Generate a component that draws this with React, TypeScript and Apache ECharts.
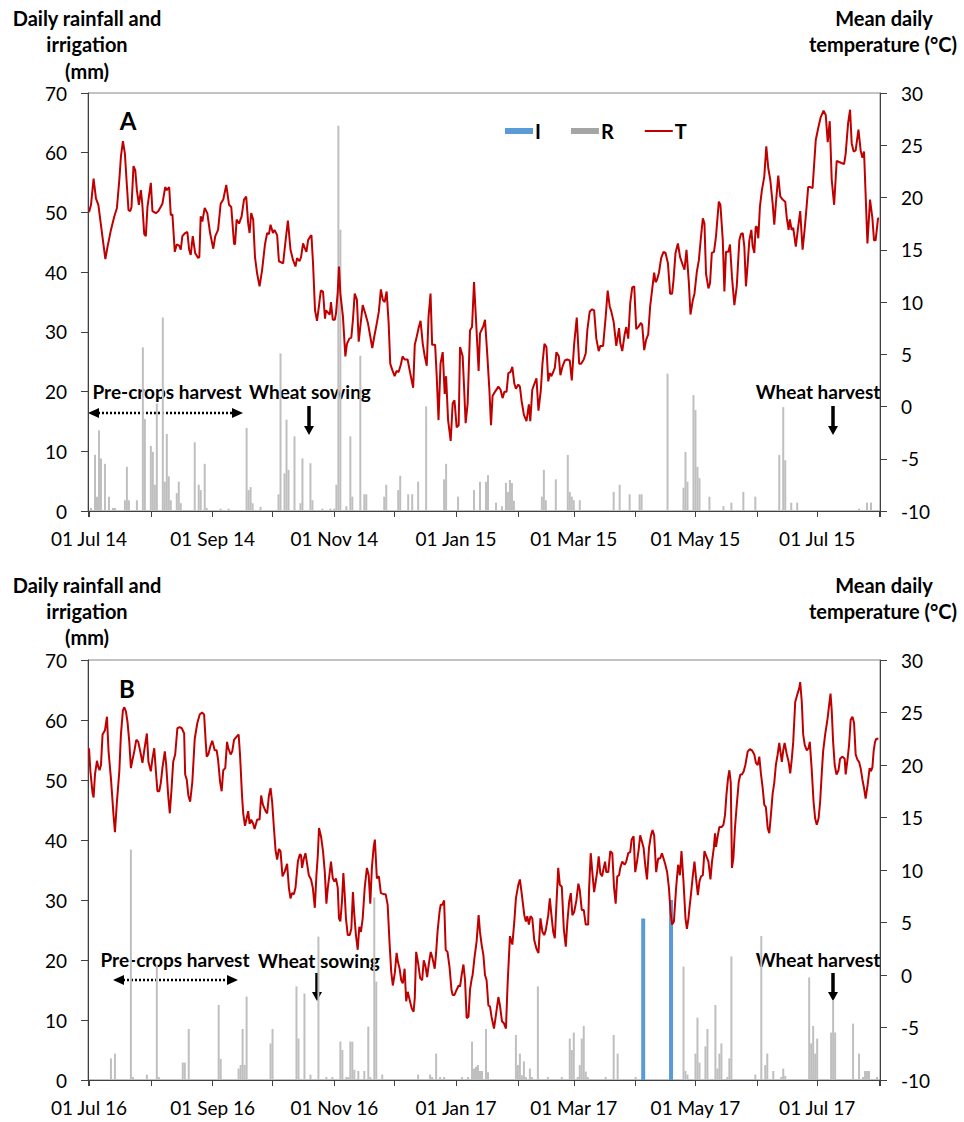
import React, { useEffect, useRef } from "react";
import * as echarts from "echarts";

// ---------- Data (day offset from 1 July of start year, value) ----------
const startA = [2014, 6, 1];
const endA = [2015, 7, 1];
const startB = [2016, 6, 1];
const endB = [2017, 7, 1];

const monthNames = ["Jan", "Feb", "Mar", "Apr", "May", "Jun", "Jul", "Aug", "Sep", "Oct", "Nov", "Dec"];

// Panel A: mean daily temperature (°C)
const tempA: number[][] = [
  [0,18.6],[1,19.3],[2.3,21.8],[3.5,19.9],[4.7,19.3],[6.3,16.9],[8.2,14.1],[9.3,15.3],[11,16.9],[12.7,18.2],[14,19.0],[15.2,21.7],[16,23.9],[17,25.4],[18,24.2],[18.8,21.7],[19.8,18.8],[20.7,18.7],[21.3,19.1],[22.3,23.0],[23.2,22.6],[24,20.7],[25,19.3],[26,20.7],[26.7,19.4],[27.7,16.5],[28.5,16.3],[29.3,19.1],[31,21.4],[31.8,18.7],[33.5,18.5],[34.8,18.7],[36.8,19.4],[38.2,21.0],[39,20.7],[40.2,21.0],[41,18.3],[41.8,18.4],[43,14.8],[44,15.5],[45.2,15.4],[46,15.0],[46.8,16.3],[48.2,16.6],[49.3,16.7],[50.2,15.0],[51,14.5],[52,16.3],[53.2,14.7],[54.7,14.2],[55.3,14.3],[56,18.2],[56.8,17.7],[58,19.0],[59.3,18.5],[60.7,16.6],[62.3,15.1],[63.3,16.3],[64.7,16.9],[66,19.4],[67.3,19.8],[68.8,21.2],[70.2,19.3],[71.3,19.1],[72.7,15.6],[73.2,15.5],[74,17.9],[75.2,17.5],[76.5,18.2],[77.7,19.8],[78.8,20.1],[79.8,17.5],[80.5,16.6],[81.3,18.5],[82.3,17.9],[83.2,14.3],[84.3,12.7],[85.5,11.5],[86.8,13.1],[88.2,15.5],[89.3,16.6],[90.2,16.5],[91,17.4],[92.2,16.6],[93,16.9],[94.3,16.4],[95.2,13.9],[97.3,13.7],[98.5,15.8],[99.7,17.8],[101,15.0],[102.3,14.0],[103.5,13.4],[104.3,14.2],[105.5,13.9],[106.3,14.3],[107.3,15.6],[108.5,15.0],[109,14.8],[109.8,15.9],[111,16.3],[111.5,16.4],[112.3,13.7],[113.3,9.2],[114.3,8.2],[115.2,9.5],[116.2,11.1],[117.3,11.0],[118.3,8.4],[118.8,9.2],[120.2,8.9],[120.7,8.8],[121.3,10.0],[122.2,8.3],[123.2,8.3],[123.8,8.9],[124.7,11.0],[125.3,13.4],[126,10.8],[127.3,8.6],[128.5,4.8],[129.3,6.0],[130.5,6.5],[131.5,6.6],[132.3,8.3],[133.2,10.8],[134.3,10.2],[135.2,6.2],[136.2,8.0],[137.2,9.7],[138.5,8.9],[139.8,8.0],[141,6.7],[142,5.6],[143,6.7],[144.3,8.0],[145.3,9.1],[146.3,11.2],[147.3,10.2],[148.2,10.0],[149.2,11.0],[150.2,8.0],[151,4.1],[152,3.5],[153.2,2.9],[154.2,3.4],[155.2,3.3],[156.3,4.0],[157.2,4.8],[158.2,4.5],[159.7,4.5],[161,3.2],[162.5,1.8],[163.3,5.9],[164.3,6.7],[165.2,7.5],[166.2,8.2],[167.3,6.0],[168.3,4.8],[169.3,3.9],[170.2,8.6],[171.2,10.8],[172,5.9],[173.5,5.9],[174.3,2.9],[175.2,-1.3],[176.2,4.1],[177.3,5.2],[178.3,1.2],[179,2.9],[180,-1.3],[181.3,-3.3],[182.3,0.3],[183.2,0.6],[184.3,-2.0],[185.3,-1.8],[186,5.7],[187.3,4.8],[188,1.9],[188.8,-1.6],[189.8,0.3],[191,7.3],[192,7.6],[193,11.9],[194,8.3],[195.3,3.4],[196,7.0],[197.7,7.7],[198.5,8.3],[199.7,4.8],[200.7,1.6],[201.5,-1.8],[202.3,1.0],[203.5,1.4],[205.2,1.9],[206.3,1.6],[207.3,0.8],[208.2,1.4],[209.3,1.4],[210.2,3.2],[211.3,3.3],[212.2,3.8],[213.2,2.2],[214,1.7],[215.2,2.1],[216,1.9],[216.8,0.6],[218,-0.8],[219.3,-1.4],[220.5,0.2],[221.2,-1.4],[222.2,1.6],[223.3,2.2],[224.3,2.7],[225.3,-0.4],[226.5,1.6],[227.3,4.1],[228.3,6.0],[229.3,5.7],[230.2,2.4],[231,3.2],[231.7,2.9],[232.7,3.3],[233.5,3.7],[234.3,5.2],[235.5,4.8],[236.3,3.0],[237.3,3.8],[238.5,4.4],[239.7,4.5],[241,4.4],[242,2.5],[243.2,6.0],[244.5,8.5],[245.7,4.1],[246.7,4.1],[248,4.5],[249,5.1],[249.8,7.3],[251,9.1],[252.2,9.3],[253.2,9.2],[254.3,6.5],[255.5,5.3],[256.3,5.8],[257.7,5.8],[259,8.6],[260,11.1],[261,9.6],[261.8,9.1],[263,8.1],[264.3,5.8],[265.7,7.5],[266.3,6.1],[267.3,5.3],[268.5,6.9],[269.3,7.6],[270.3,6.5],[271.3,9.9],[272.3,11.4],[273.3,11.5],[274.3,7.4],[275.3,7.6],[276.7,8.0],[277.3,7.8],[278.3,5.4],[279.3,6.4],[280.3,6.9],[281.3,9.6],[282.3,11.2],[283.3,12.8],[284,11.9],[284.7,12.1],[285.7,12.8],[286.8,14.2],[288,14.8],[289,14.7],[290.2,13.7],[291.3,10.8],[292.3,10.8],[293,12.1],[294,14.7],[295.2,15.6],[296.3,14.3],[297.7,13.5],[298.5,13.1],[299.5,15.0],[300.7,11.8],[301.5,8.8],[302.7,10.2],[303.5,10.8],[304.7,12.9],[305.7,14.0],[306.8,16.3],[307.7,18.0],[308.5,17.5],[309.3,12.7],[310.5,11.3],[311.3,11.8],[312.2,14.7],[313.3,14.8],[314.3,16.3],[315.7,19.6],[316.5,19.3],[317.7,15.9],[318.5,11.0],[319.3,14.8],[320.5,14.8],[321.3,15.5],[322.3,12.4],[323.5,9.7],[324.7,11.5],[326,15.9],[326.8,16.5],[327.7,16.6],[328.5,15.3],[329.3,11.5],[330.2,13.7],[331,15.9],[332,16.9],[332.7,15.3],[333.5,14.7],[334.2,17.2],[334.8,17.2],[335.5,16.1],[336.3,19.1],[337.3,20.7],[338.5,22.0],[339.5,24.9],[340.5,22.8],[341.5,21.7],[342.7,19.4],[343.5,17.4],[344.3,19.4],[345.5,22.1],[346.5,20.1],[347.7,19.8],[349,19.6],[349.8,18.0],[350.7,16.9],[351.3,17.9],[352.2,16.9],[353,17.1],[354.3,15.3],[355.3,16.9],[356.5,18.7],[357.7,15.0],[358.7,16.9],[359.7,19.1],[360.5,21.0],[361.5,21.0],[362.7,20.9],[364.3,25.5],[365.7,26.8],[366.8,27.7],[368.2,28.3],[369.3,27.9],[370.3,25.3],[371.3,27.3],[372.3,21.7],[373.5,19.3],[374.8,23.5],[376,23.4],[377.2,23.3],[378.5,23.2],[379.3,24.2],[380.5,27.1],[381.5,28.4],[382.3,25.2],[383.3,24.4],[384.3,24.5],[385.7,26.5],[386.8,24.5],[387.7,23.8],[388.5,24.4],[390.2,15.6],[391.5,19.8],[392.7,18.0],[393.5,15.9],[394.3,15.9],[395.5,18.0],[396,18.0]
];

// Panel A: daily rainfall (mm)
const rainA: number[][] = [
  [1,0.5],[3,9.4],[4,2.4],[5,13.5],[6,8.8],[8,7.9],[10,2.4],[12,0.5],[13,0.5],[18,1.8],[19,7.4],[20,1.8],[24,1.8],[27,27.4],[28,15.4],[31,10.9],[32,9.9],[33,4.4],[34,18.0],[37,32.4],[38,4.9],[39,12.9],[40,5.8],[41,1.8],[44,3.0],[45,4.9],[46,1.3],[53,11.5],[55,4.4],[56,3.5],[58,7.9],[59,0.5],[66,0.4],[70,0.4],[79,13.9],[80,3.5],[81,4.0],[82,1.3],[86,0.7],[95,2.8],[96,26.4],[98,6.3],[99,15.3],[100,6.9],[103,12.5],[106,1.3],[107,8.8],[111,8.0],[112,1.8],[117,0.4],[121,0.4],[123,0.4],[124,4.4],[125,64.5],[126,47.1],[129,0.8],[131,12.5],[132,2.4],[136,26.0],[138,2.8],[139,2.8],[148,2.4],[149,4.4],[155,3.5],[156,5.9],[160,2.8],[162,2.8],[165,4.9],[169,17.5],[178,5.3],[179,7.9],[185,2.4],[193,3.5],[196,4.9],[199,4.9],[200,6.0],[204,1.4],[207,0.8],[209,4.7],[210,3.2],[211,5.2],[212,4.7],[213,1.7],[227,2.4],[228,6.9],[229,1.8],[234,5.3],[240,9.4],[241,3.2],[242,2.4],[243,1.8],[246,1.8],[263,3.2],[266,4.4],[271,2.8],[276,2.8],[277,2.8],[290,23.0],[298,3.9],[299,9.9],[300,4.9],[303,19.4],[304,16.9],[305,7.4],[306,5.5],[311,2.4],[318,0.8],[322,1.4],[328,3.2],[334,2.4],[346,9.4],[348,17.4],[349,8.5],[352,1.4],[355,1.4],[386,0.4],[390,1.4],[392,1.4]
];

// Panel B: mean daily temperature (°C)
const tempB: number[][] = [
  [0,21.6],[0.7,19.4],[1.8,17.3],[2.3,16.9],[3,19.1],[4,20.4],[4.7,19.8],[5.3,19.5],[6,20.0],[6.8,22.9],[8,23.3],[9,24.6],[9.8,21.3],[11,18.7],[12.3,15.2],[13,13.6],[14,16.5],[15.2,19.4],[16,22.9],[17,25.2],[17.7,25.5],[18.5,25.1],[19.3,24.1],[20.2,22.2],[21,19.7],[21.8,20.5],[22.7,21.3],[23.7,22.4],[24.7,22.2],[25.7,21.3],[26.8,20.2],[27.7,21.4],[29,23.0],[29.8,20.3],[31,19.4],[31.8,20.6],[32.7,21.6],[33.5,19.5],[34.3,17.5],[35.2,17.5],[36,18.3],[36.8,19.7],[38,21.3],[38.7,20.0],[39.7,17.1],[40.5,15.4],[41.3,17.5],[42.2,20.3],[43.2,21.0],[44.3,23.5],[45.5,23.6],[46.5,23.5],[47.7,23.0],[48.2,19.1],[49,18.6],[49.8,17.1],[50.7,16.5],[51.8,18.4],[53,22.5],[54.3,24.0],[55.5,24.8],[56.7,25.0],[57.7,24.8],[58.5,22.2],[59,20.8],[59.8,21.0],[61,21.9],[61.8,22.3],[63,21.4],[64,21.4],[64.7,20.5],[65.7,18.4],[66.5,17.5],[67.3,19.5],[68.3,19.7],[69.2,22.2],[69.8,21.6],[71,21.0],[71.8,21.3],[72.7,22.4],[74,22.7],[75,22.9],[75.7,21.0],[76.7,17.1],[77.3,15.4],[78.2,14.2],[79,14.9],[79.8,15.6],[80.5,14.4],[81.3,14.8],[82.3,14.4],[83,13.9],[84.3,14.8],[85.5,14.8],[86.3,17.1],[87.2,16.2],[88.5,15.6],[89.3,15.4],[90.2,17.1],[91,17.8],[91.8,16.5],[92.7,14.0],[93.5,11.9],[94.3,11.0],[95.2,12.0],[96,11.8],[97,9.4],[98,9.8],[99.3,10.6],[100.2,8.3],[101,7.3],[101.8,7.8],[102.7,7.7],[103.5,8.3],[104.7,10.8],[105.7,11.5],[106.3,11.4],[106.8,10.2],[107.7,11.1],[108.5,11.6],[109.3,10.6],[110.2,9.5],[111.3,9.1],[112.2,8.3],[113.2,6.4],[114,9.5],[114.7,11.4],[115.3,14.0],[116.3,13.2],[117.3,11.8],[118.2,9.8],[119,6.8],[119.7,8.3],[120.7,9.8],[121.3,10.8],[122.2,9.2],[123,8.9],[123.8,9.2],[124.7,8.3],[125.3,5.4],[126,5.1],[126.8,7.0],[127.5,9.7],[128.2,7.6],[128.8,5.4],[129.7,3.8],[130.7,3.8],[131.5,4.4],[132.3,7.9],[133,5.7],[133.8,3.8],[134.7,2.4],[135.5,4.6],[136.3,4.1],[137.2,5.4],[138.2,8.3],[139.3,10.2],[140.2,9.5],[141,6.8],[141.8,10.2],[142.7,12.2],[143.3,12.9],[144.3,9.2],[145.3,9.4],[146.3,7.8],[147.7,7.7],[148.7,7.7],[149.7,6.7],[150.7,2.9],[151.5,0.3],[152.3,-1.0],[153.3,0.2],[154.2,2.1],[154.8,1.3],[155.7,0.6],[156.5,-0.5],[157.3,-0.8],[158.2,0.6],[159,-2.5],[159.8,-1.6],[160.5,-2.2],[161.8,-3.2],[162.7,-3.5],[163.3,-2.2],[164,2.2],[165,1.1],[166,-0.3],[167,-0.5],[167.8,1.4],[168.7,0.8],[169.5,-0.2],[170.3,1.0],[171.3,2.2],[172.2,1.6],[173.3,0.6],[174,2.1],[174.7,4.1],[175.7,6.0],[176.3,6.7],[177.2,6.7],[178,7.1],[178.8,2.4],[179.7,2.2],[180.7,0.8],[181.7,-1.4],[182.3,-1.9],[183.2,-1.9],[184.3,-1.4],[185.3,-1.0],[186,-1.1],[186.8,0.0],[187.7,1.0],[188.5,-0.5],[189.3,-4.1],[190.2,-4.0],[191,-1.4],[191.8,-0.4],[192.3,0.0],[193.2,1.6],[194.3,3.2],[195.3,5.7],[196,4.1],[196.8,2.9],[197.7,1.9],[198.5,0.0],[199.3,-0.5],[200.2,-2.9],[201,-3.0],[201.8,-4.0],[203,-5.1],[204,-3.8],[205.2,-2.1],[206,-2.9],[207,-4.4],[208,-4.6],[209,-5.1],[209.8,-1.0],[211,3.7],[212.2,2.9],[213.2,5.1],[214,7.3],[215.2,8.6],[216,9.1],[217,7.6],[218.2,5.7],[219,5.1],[219.7,5.6],[220.5,4.8],[221.3,5.6],[222.2,5.4],[223.2,3.3],[224.3,2.5],[225.3,2.1],[226.3,5.4],[227.3,4.1],[228.2,3.8],[229,4.3],[230.2,5.7],[231,7.3],[231.8,5.7],[232.7,4.1],[233.5,3.5],[234.3,6.7],[235.2,10.2],[236,8.6],[237,8.4],[238,4.4],[239,2.7],[239.8,5.1],[240.7,7.0],[241.5,7.8],[242.3,5.7],[243.2,6.0],[244.3,7.1],[245.3,8.7],[246,8.1],[247,6.2],[248,6.2],[249,4.8],[250.2,4.8],[250.7,8.3],[251.5,11.6],[252.3,9.8],[253.2,7.9],[254,8.9],[254.7,9.8],[255.5,11.3],[256.3,9.7],[257.2,9.4],[258,10.2],[258.7,10.8],[259.3,9.8],[260.3,9.8],[261.3,11.8],[262.3,11.6],[263.2,8.3],[264,6.8],[264.8,9.4],[265.7,9.5],[266.3,10.2],[267.3,10.8],[268.5,10.5],[269.3,10.8],[270.3,11.6],[271.3,11.7],[272,12.9],[273,13.2],[273.8,9.8],[274.7,10.8],[275.5,11.9],[276.3,13.3],[277.2,12.7],[278,12.1],[278.8,10.5],[279.7,9.1],[280.7,12.1],[281.7,13.3],[282.5,13.8],[283.3,13.3],[284.3,9.8],[285.3,11.1],[286.3,11.1],[287.2,11.6],[288,11.1],[288.8,10.6],[289.8,9.8],[290.7,8.3],[291.5,6.0],[292.3,4.8],[293.2,5.1],[294.3,8.3],[295.3,10.5],[296.2,9.5],[297,11.8],[298,8.9],[299,5.4],[299.7,4.4],[300.5,5.4],[301,6.4],[301.7,7.6],[302.7,9.5],[303.5,10.8],[304.3,9.2],[305.2,7.6],[306,8.9],[306.8,9.4],[307.7,9.5],[308.5,11.8],[309.3,11.4],[310.5,10.8],[311.5,9.1],[312.3,10.8],[313.2,12.1],[313.8,13.5],[314.3,12.2],[315.2,13.3],[316,14.1],[317.2,14.1],[318,14.3],[318.8,15.2],[319.5,17.1],[320.3,18.7],[321,19.5],[321.7,18.3],[322.3,10.2],[323,11.1],[323.8,14.0],[324.7,16.2],[325.7,18.4],[326.5,19.1],[327.3,19.1],[328.2,19.4],[329,20.0],[330.2,21.3],[331.3,21.5],[332.3,21.4],[333.5,21.0],[334.3,20.2],[335.2,20.0],[336,20.8],[336.8,19.2],[337.7,17.8],[338.5,16.2],[339.3,16.0],[340.2,14.0],[341,13.5],[341.8,15.2],[342.7,17.3],[343.5,18.3],[344.3,20.0],[345.2,21.0],[346,22.1],[346.8,21.0],[347.3,20.3],[348,21.4],[348.7,22.1],[349.7,21.1],[350.7,20.3],[351.5,19.2],[352.3,20.6],[353,22.2],[354,26.0],[355,26.7],[356,27.3],[356.5,27.9],[357.3,26.0],[358,22.9],[358.8,21.9],[359.8,21.4],[360.7,21.6],[361.3,22.2],[362.2,19.8],[363.2,16.5],[364,14.9],[364.8,14.3],[365.7,14.9],[366.5,16.5],[367.3,19.2],[368,21.3],[369,22.9],[370.2,24.4],[371,25.7],[371.7,26.8],[372.3,25.2],[373,22.2],[373.8,20.0],[374.7,19.1],[375.7,19.5],[376.5,20.6],[377.7,20.8],[378.8,20.6],[379.3,19.1],[380.2,20.5],[381,21.9],[381.8,24.3],[382.7,24.6],[383.5,24.0],[384.3,21.0],[385.2,20.5],[386,20.3],[386.8,19.7],[387.7,18.6],[388.5,17.8],[389.3,16.8],[390.3,18.1],[391.3,19.7],[392,19.4],[392.7,19.8],[393.3,21.3],[394,22.2],[394.7,22.5],[395.7,22.5]
];

// Panel B: daily rainfall (mm)
const rainB: number[][] = [
  [11,3.6],[13,4.4],[21,38.4],[22,0.5],[29,0.9],[34,19.2],[35,0.5],[47,2.9],[48,2.9],[50,8.5],[65,12.5],[66,3.5],[75,1.9],[76,2.5],[77,8.5],[78,2.5],[79,13.9],[91,6.1],[92,8.5],[104,15.6],[105,6.9],[108,14.4],[111,0.9],[115,23.9],[119,0.5],[122,0.5],[126,6.4],[127,5.0],[129,0.5],[130,0.5],[131,6.4],[132,6.4],[133,1.7],[135,1.5],[138,1.5],[140,8.9],[141,0.5],[143,30.4],[144,16.4],[147,0.9],[165,0.9],[171,0.9],[172,0.5],[174,4.4],[176,0.5],[178,0.5],[187,0.5],[190,0.5],[192,6.4],[193,1.9],[194,2.2],[195,2.5],[196,1.5],[197,1.5],[199,8.5],[200,1.3],[214,7.5],[215,2.5],[216,4.4],[217,0.8],[218,3.1],[219,0.5],[221,1.9],[222,0.5],[225,15.6],[230,0.5],[237,0.5],[241,6.9],[242,5.0],[243,7.9],[245,0.5],[246,2.5],[247,6.9],[248,9.0],[249,1.4],[250,0.5],[259,0.5],[263,7.5],[265,4.4],[274,0.5],[298,18.9],[299,1.5],[300,0.9],[304,4.4],[305,10.4],[306,2.9],[309,5.6],[310,8.5],[314,12.5],[315,1.9],[316,4.4],[317,6.1],[320,0.5],[321,3.6],[322,20.6],[334,0.9],[337,24.0],[339,2.5],[340,4.4],[343,1.5],[347,0.5],[348,1.9],[349,0.7],[361,17.1],[362,6.1],[363,9.0],[364,4.4],[365,6.9],[372,7.9],[373,13.3],[374,7.9],[383,9.4],[386,4.4],[388,0.5],[389,1.5],[390,1.5],[391,1.5],[395,0.5]
];

// Panel B: irrigation (mm)
const irrB: number[][] = [
  [278,26.9],[292,30.0]
];

const leftTicks = { min: 0, max: 70, interval: 10 };
const rightTicks = { min: -10, max: 30, interval: 5 };

// ---------- helpers ----------
const DAY = 86400000;
const toTime = (start: number[]) => new Date(start[0], start[1], start[2]).getTime();
const mapSeries = (start: number[], arr: number[][]) =>
  arr.map(([d, v]) => [toTime(start) + d * DAY, v]);

const FONT = "Lato, 'Open Sans', sans-serif";

const xLabel = (val: number) => {
  const d = new Date(val);
  if (d.getMonth() % 2 !== 0) return "";
  return `01 ${monthNames[d.getMonth()]} ${String(d.getFullYear()).slice(2)}`;
};

const axisLineStyle = { color: "#404040", width: 1 };

function makeXAxis(grid: number, start: number[], end: number[], show = true) {
  return {
    type: "time",
    gridIndex: grid,
    min: toTime(start),
    max: toTime(end),
    show,
    splitNumber: 13,
    minInterval: 27 * DAY,
    maxInterval: 31 * DAY,
    axisLine: { show: true, lineStyle: axisLineStyle },
    axisTick: { show: true, length: 6, lineStyle: axisLineStyle },
    splitLine: { show: false },
    axisLabel: {
      formatter: xLabel,
      color: "#000",
      fontSize: 19,
      fontWeight: "normal",
      fontFamily: FONT,
      margin: 18,
      hideOverlap: false,
      showMinLabel: true,
      showMaxLabel: true,
    },
  };
}

function makeYAxis(grid: number, side: "left" | "right") {
  const t = side === "left" ? leftTicks : rightTicks;
  return {
    type: "value",
    gridIndex: grid,
    position: side,
    min: t.min,
    max: t.max,
    interval: t.interval,
    axisLine: { show: true, lineStyle: axisLineStyle },
    axisTick: { show: true, length: 7, lineStyle: axisLineStyle },
    splitLine: { show: false },
    axisLabel: { color: "#000", fontSize: 19, fontFamily: FONT, margin: side === "left" ? 21 : 21 },
  };
}

const txt = (text: string, x: number, y: number, size = 19, align = "center") => ({
  type: "text",
  x,
  y,
  silent: true,
  style: {
    text,
    align,
    verticalAlign: "middle",
    font: `bold ${size}px ${FONT}`,
    fill: "#000",
  },
});

const dottedArrow = (x1: number, x2: number, y: number) => [
  {
    type: "line",
    silent: true,
    shape: { x1: x1 + 10, y1: y, x2: x2 - 10, y2: y },
    style: { stroke: "#000", lineWidth: 2.5, lineDash: [2, 2] },
  },
  {
    type: "polygon",
    silent: true,
    shape: { points: [[x1, y], [x1 + 11, y - 5], [x1 + 11, y + 5]] },
    style: { fill: "#000" },
  },
  {
    type: "polygon",
    silent: true,
    shape: { points: [[x2, y], [x2 - 11, y - 5], [x2 - 11, y + 5]] },
    style: { fill: "#000" },
  },
];

const downArrow = (x: number, y1: number, y2: number) => [
  {
    type: "line",
    silent: true,
    shape: { x1: x, y1, x2: x, y2: y2 - 8 },
    style: { stroke: "#000", lineWidth: 3.5 },
  },
  {
    type: "polygon",
    silent: true,
    shape: { points: [[x - 5, y2 - 9], [x + 5, y2 - 9], [x, y2]] },
    style: { fill: "#000" },
  },
];

export default function App() {
  const ref = useRef<HTMLDivElement>(null);

  useEffect(() => {
    if (!ref.current) return;
    const chart = echarts.init(ref.current, undefined, { renderer: "svg" });

    const graphics: any[] = [
      // Panel A titles
      txt("Daily rainfall and", 87, 18, 20),
      txt("irrigation", 87, 44, 20),
      txt("(mm)", 87, 71, 20),
      txt("Mean daily", 884, 18, 20),
      txt("temperature (°C)", 883, 44, 20),
      txt("A", 128, 120, 24),
      txt("Pre-crops harvest", 167, 391),
      txt("Wheat sowing", 310, 391),
      txt("Wheat harvest", 818, 391),
      ...dottedArrow(88, 243, 413),
      ...downArrow(309, 406, 435),
      ...downArrow(833, 406, 435),
      // Panel B titles
      txt("Daily rainfall and", 87, 585, 20),
      txt("irrigation", 87, 611, 20),
      txt("(mm)", 87, 637, 20),
      txt("Mean daily", 884, 585, 20),
      txt("temperature (°C)", 883, 611, 20),
      txt("B", 127, 688, 24),
      txt("Pre-crops harvest", 175, 959),
      txt("Wheat sowing", 319, 960),
      txt("Wheat harvest", 818, 959),
      ...dottedArrow(113, 238, 980),
      ...downArrow(317, 973, 1001),
      ...downArrow(833, 973, 1001),
    ];

    const option: any = {
      animation: false,
      backgroundColor: "#fff",
      textStyle: { fontFamily: FONT },
      grid: [
        { left: 88, right: 84, top: 93, height: 418, show: true, borderColor: "#868686", borderWidth: 1, backgroundColor: "transparent", outerBoundsMode: "none" },
        { left: 88, right: 84, top: 660, height: 420, show: true, borderColor: "#868686", borderWidth: 1, backgroundColor: "transparent", outerBoundsMode: "none" },
      ],
      legend: {
        left: 500,
        top: 116,
        itemWidth: 28,
        itemHeight: 6,
        itemGap: 30,
        selectedMode: false,
        textStyle: { fontSize: 20, fontWeight: "bold", color: "#000", fontFamily: FONT, padding: [0, 0, 0, -3] },
        data: [
          { name: "I", icon: "rect", itemStyle: { color: "#5B9BD5" } },
          { name: "R", icon: "rect", itemStyle: { color: "#A5A5A5" } },
          { name: "T", itemStyle: { opacity: 0 }, lineStyle: { color: "#C00000", width: 2 } },
        ],
      },
      xAxis: [
        makeXAxis(0, startA, endA),
        makeXAxis(1, startB, endB),
        { ...makeXAxis(1, startB, endB, false) },
      ],
      yAxis: [
        makeYAxis(0, "left"),
        makeYAxis(0, "right"),
        makeYAxis(1, "left"),
        makeYAxis(1, "right"),
      ],
      series: [
        {
          name: "R",
          type: "bar",
          xAxisIndex: 0,
          yAxisIndex: 0,
          barWidth: 2,
          itemStyle: { color: "#BFBFBF" },
          data: mapSeries(startA, rainA),
          z: 2,
        },
        {
          name: "T",
          type: "line",
          xAxisIndex: 0,
          yAxisIndex: 1,
          symbol: "none",
          showSymbol: false,
          lineStyle: { color: "#C00000", width: 2 },
          itemStyle: { color: "#C00000" },
          data: mapSeries(startA, tempA),
          z: 3,
        },
        {
          name: "R",
          type: "bar",
          xAxisIndex: 1,
          yAxisIndex: 2,
          barWidth: 2,
          itemStyle: { color: "#BFBFBF" },
          data: mapSeries(startB, rainB),
          z: 2,
        },
        {
          name: "I",
          type: "bar",
          xAxisIndex: 2,
          yAxisIndex: 2,
          barWidth: 4,
          itemStyle: { color: "#5B9BD5" },
          data: mapSeries(startB, irrB),
          z: 2,
        },
        {
          name: "T",
          type: "line",
          xAxisIndex: 1,
          yAxisIndex: 3,
          symbol: "none",
          showSymbol: false,
          lineStyle: { color: "#C00000", width: 2 },
          itemStyle: { color: "#C00000" },
          data: mapSeries(startB, tempB),
          z: 3,
        },
      ],
      graphic: graphics,
    };

    chart.setOption(option);
    return () => chart.dispose();
  }, []);

  return (
    <div
      ref={ref}
      style={{ position: "absolute", left: 0, top: 0, width: 964, height: 1122, background: "#fff" }}
    />
  );
}
